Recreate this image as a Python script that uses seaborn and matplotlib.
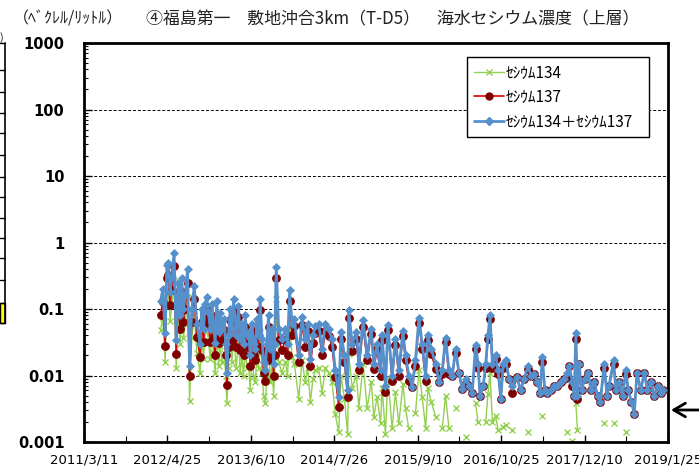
import numpy as np
import pandas as pd
import matplotlib
matplotlib.use("Agg")
import matplotlib.pyplot as plt
import seaborn as sns
from matplotlib.lines import Line2D
from matplotlib.patches import Rectangle
from matplotlib.ticker import FixedLocator, LogLocator, NullFormatter, AutoMinorLocator

nan = float("nan")

# ---------------- data ----------------
dates = [
    "2012-03-22","2012-04-02","2012-04-14","2012-04-22","2012-04-30","2012-05-08","2012-05-16","2012-05-28","2012-06-07","2012-06-18",
    "2012-06-26","2012-07-05","2012-07-13","2012-07-22","2012-08-02","2012-08-12","2012-08-23","2012-09-04","2012-09-17","2012-10-03",
    "2012-10-11","2012-10-20","2012-10-28","2012-11-05","2012-11-13","2012-11-22","2012-11-30","2012-12-08","2012-12-16","2012-12-24",
    "2013-01-02","2013-01-10","2013-01-18","2013-01-30","2013-02-06","2013-02-12","2013-02-20","2013-02-28","2013-03-09","2013-03-17",
    "2013-03-30","2013-04-10","2013-04-18","2013-04-27","2013-05-05","2013-05-13","2013-05-22","2013-05-30","2013-06-07","2013-06-15",
    "2013-06-24","2013-07-02","2013-07-10","2013-07-18","2013-07-26","2013-08-04","2013-08-12","2013-08-20","2013-08-28","2013-09-05",
    "2013-09-13","2013-09-22","2013-09-30","2013-10-05","2013-10-13","2013-10-25","2013-11-10","2013-11-27","2013-12-08","2013-12-18",
    "2013-12-30",
    "2014-01-10","2014-02-01","2014-02-17","2014-03-05","2014-03-17","2014-03-30","2014-04-12","2014-04-24","2014-05-10","2014-05-27",
    "2014-06-12","2014-06-29","2014-07-15","2014-07-31","2014-08-17","2014-08-28","2014-09-14","2014-09-30","2014-10-05","2014-10-22",
    "2014-11-12","2014-11-24","2014-12-15",
    "2015-01-04","2015-01-24","2015-02-06","2015-02-22","2015-03-11","2015-03-19","2015-04-04","2015-04-16","2015-05-07","2015-05-23",
    "2015-06-09","2015-06-29","2015-07-12","2015-07-28","2015-08-14","2015-08-30","2015-09-16","2015-10-02","2015-10-19","2015-10-30",
    "2015-11-16","2015-12-07","2015-12-24",
    "2016-01-09","2016-01-25","2016-02-11","2016-02-27","2016-03-15","2016-03-31","2016-04-17","2016-05-03","2016-05-20","2016-06-05",
    "2016-06-21","2016-07-03","2016-07-13","2016-07-29","2016-08-10","2016-08-21","2016-08-31","2016-09-12","2016-09-28","2016-10-10",
    "2016-10-23","2016-11-05","2016-11-16","2016-12-03","2016-12-19",
    "2017-01-10","2017-01-29","2017-02-15","2017-03-07","2017-03-20","2017-04-05","2017-04-22","2017-05-05","2017-05-16","2017-05-28",
    "2017-06-10","2017-06-26","2017-07-13","2017-07-29","2017-08-15","2017-08-31","2017-09-13","2017-09-25","2017-10-11","2017-10-20",
    "2017-10-28","2017-11-05","2017-11-13","2017-11-25","2017-12-11","2017-12-28",
    "2018-01-10","2018-01-26","2018-02-12","2018-02-25","2018-03-17","2018-03-30","2018-04-10","2018-05-02","2018-05-13","2018-05-30",
    "2018-06-15","2018-07-02","2018-07-13","2018-07-29","2018-08-12","2018-08-25","2018-09-13","2018-09-30","2018-10-16","2018-11-02",
    "2018-11-18","2018-12-05","2018-12-21","2018-12-30",
]

cs_total = [
    0.13,0.20,0.044,0.46,0.50,0.18,0.30,0.70,0.034,0.25,
    0.08,0.29,0.10,0.16,0.40,0.014,0.10,0.22,0.06,0.03,
    0.10,0.05,0.12,0.15,0.09,0.05,0.12,0.06,0.031,0.13,
    0.045,0.087,0.05,0.07,0.03,0.011,0.04,0.10,0.05,0.14,
    0.04,0.11,0.035,0.06,0.03,0.08,0.04,0.045,0.02,0.06,
    0.03,0.025,0.07,0.04,0.14,0.035,0.016,0.012,0.03,0.08,
    0.025,0.05,0.015,0.03,0.43,0.05,0.035,0.05,0.03,0.19,
    0.06,
    0.07,0.02,0.075,0.035,0.06,0.018,0.04,0.055,0.06,0.025,
    0.06,0.05,0.035,0.012,0.0048,0.045,0.02,0.006,0.095,0.03,
    0.045,0.015,0.068,
    0.02,0.05,0.015,0.03,0.012,0.04,0.007,0.058,0.01,0.035,
    0.012,0.046,0.02,0.01,0.0068,0.017,0.074,0.03,0.01,0.04,
    0.025,0.015,0.008,
    0.012,0.037,0.012,0.01,0.025,0.011,0.0062,0.009,0.007,0.0055,
    0.029,0.015,0.005,0.007,0.015,0.04,0.081,0.015,0.02,0.012,
    0.0045,0.015,0.017,0.009,0.007,
    0.0095,0.006,0.009,0.014,0.01,0.0105,0.008,0.0055,0.019,0.006,
    0.0055,0.006,0.007,0.007,0.008,0.009,0.011,0.014,0.008,0.005,
    0.044,0.005,0.015,0.006,0.009,0.011,
    0.006,0.008,0.005,0.004,0.015,0.005,0.007,0.017,0.006,0.008,
    0.005,0.012,0.006,0.004,0.0026,0.011,0.006,0.011,0.006,0.008,
    0.005,0.007,0.0055,0.006,
]

cs137 = [
    0.082,0.126,0.028,0.29,0.32,0.113,0.19,0.44,0.021,0.16,
    0.05,0.18,0.063,0.10,0.25,0.0098,0.063,0.14,0.038,0.019,
    0.063,0.032,0.075,0.095,0.057,0.032,0.076,0.038,0.02,0.082,
    0.031,0.059,0.034,0.048,0.02,0.0072,0.027,0.068,0.034,0.095,
    0.027,0.075,0.024,0.041,0.02,0.054,0.027,0.031,0.014,0.041,
    0.02,0.017,0.048,0.027,0.095,0.024,0.011,0.0082,0.02,0.054,
    0.017,0.034,0.01,0.02,0.29,0.034,0.024,0.034,0.02,0.13,
    0.041,
    0.055,0.016,0.058,0.027,0.047,0.014,0.031,0.043,0.047,0.02,
    0.047,0.039,0.027,0.0094,0.0034,0.035,0.016,0.0047,0.074,0.023,
    0.035,0.012,0.053,
    0.017,0.042,0.0126,0.025,0.01,0.034,0.0057,0.049,0.0084,0.029,
    0.01,0.039,0.017,0.0084,0.0068,0.014,0.062,0.025,0.0084,0.034,
    0.021,0.0126,0.008,
    0.0104,0.032,0.0104,0.01,0.022,0.011,0.0062,0.0078,0.007,0.0055,
    0.025,0.013,0.005,0.007,0.013,0.035,0.07,0.013,0.0175,0.0105,
    0.0045,0.013,0.015,0.009,0.0055,
    0.0095,0.006,0.009,0.0125,0.01,0.0105,0.008,0.0055,0.016,0.006,
    0.0055,0.006,0.007,0.007,0.008,0.009,0.0096,0.014,0.007,0.005,
    0.036,0.0045,0.015,0.006,0.009,0.011,
    0.006,0.008,0.005,0.004,0.013,0.005,0.007,0.015,0.006,0.008,
    0.005,0.0105,0.006,0.004,0.0026,0.011,0.006,0.011,0.006,0.008,
    0.005,0.007,0.0055,0.006,
]

cs134 = [
    0.048,0.074,0.016,0.17,0.18,0.067,0.11,0.26,0.013,0.09,
    0.03,0.11,0.037,0.06,0.15,0.0042,0.037,0.08,0.022,0.011,
    0.037,0.018,0.045,0.055,0.033,0.018,0.044,0.022,0.011,0.048,
    0.014,0.028,0.016,0.022,0.01,0.0038,0.013,0.032,0.016,0.045,
    0.013,0.035,0.011,0.019,0.01,0.026,0.013,0.014,0.006,0.019,
    0.01,0.008,0.022,0.013,0.045,0.011,0.005,0.0038,0.01,0.026,
    0.008,0.016,0.005,0.01,0.14,0.016,0.011,0.016,0.01,0.06,
    0.019,
    0.015,0.0045,0.017,0.008,0.013,0.004,0.009,0.012,0.013,0.0055,
    0.013,0.011,0.008,0.0026,0.0014,0.01,0.0045,0.0013,0.021,0.0066,
    0.01,0.0033,0.015,
    0.0032,0.008,0.0024,0.0048,0.0019,0.0064,0.0013,0.0093,0.0016,0.0056,
    0.0019,0.0074,0.0032,0.0016,nan,0.0027,0.012,0.0048,0.0016,0.0064,
    0.004,0.0024,nan,
    0.0016,0.005,0.0016,nan,0.0033,nan,nan,0.0012,nan,nan,
    0.0038,0.002,nan,nan,0.002,0.0052,0.011,0.002,0.0025,0.0015,
    nan,0.0017,0.0018,nan,0.0015,
    nan,nan,nan,0.0014,nan,nan,nan,nan,0.0025,nan,
    nan,nan,nan,nan,nan,nan,0.0014,nan,0.00105,nan,
    0.0038,0.0015,nan,nan,nan,nan,
    nan,nan,nan,nan,0.0019,nan,nan,0.0019,nan,nan,
    nan,0.0014,nan,nan,nan,nan,nan,nan,nan,nan,
    nan,nan,nan,nan,
]

series_names = ["ｾｼｳﾑ134", "ｾｼｳﾑ137", "ｾｼｳﾑ134＋ｾｼｳﾑ137"]
x_tick_labels = ["2011/3/11", "2012/4/25", "2013/6/10", "2014/7/26",
                 "2015/9/10", "2016/10/25", "2017/12/10", "2019/1/25"]
y_ticks = [0.001, 0.01, 0.1, 1, 10, 100, 1000]
y_tick_labels = ["0.001", "0.01", "0.1", "1", "10", "100", "1000"]
unit_label = "（ﾍﾞｸﾚﾙ/ﾘｯﾄﾙ）"
title = "④福島第一　敷地沖合3km（T-D5）　海水セシウム濃度（上層）"

# ---------------- styling ----------------
GREEN = "#92D050"
RED_LINE = "#E00000"
MAROON = "#7F0000"
BLUE = "#5590CC"

sns.set_theme(style="white")
plt.rcParams['font.family'] = ['Noto Sans CJK JP', 'DejaVu Sans']

df = pd.DataFrame({
    "date": pd.to_datetime(dates),
    "total": cs_total,
    "cs137": cs137,
    "cs134": cs134,
})
df["seg"] = df["cs134"].isna().cumsum()
green_df = df[df["cs134"].notna()]

fig = plt.figure(figsize=(6.99, 4.70), dpi=100)
W, H = 699, 470
ax = fig.add_axes([84 / W, (H - 442) / H, 584 / W, 399 / H])

sns.lineplot(data=green_df, x="date", y="cs134", units="seg", estimator=None,
             sort=False, color=GREEN, lw=1.0, marker="x", markersize=5,
             mec=GREEN, mew=1.0, ax=ax, legend=False, zorder=2)
sns.lineplot(data=df, x="date", y="cs137", estimator=None, sort=False,
             color=RED_LINE, lw=1.2, marker="o", markersize=5.5,
             mfc=MAROON, mec=MAROON, mew=0.8, ax=ax, legend=False, zorder=3)
sns.lineplot(data=df, x="date", y="total", estimator=None, sort=False,
             color=BLUE, lw=2.0, marker="D", markersize=3.6,
             mfc=BLUE, mec=BLUE, mew=0.5, ax=ax, legend=False, zorder=4)

ax.set_yscale("log")
ax.set_ylim(0.001, 1000)
xt = pd.to_datetime(x_tick_labels, format="%Y/%m/%d")
ax.set_xlim(xt[0], xt[-1])
ax.set_xticks(xt)
ax.set_xticklabels(x_tick_labels)
ax.xaxis.set_minor_locator(AutoMinorLocator(2))
ax.yaxis.set_major_locator(FixedLocator(y_ticks))
ax.set_yticklabels(y_tick_labels)
ax.yaxis.set_minor_locator(LogLocator(base=10, subs=np.arange(2, 10)))
ax.yaxis.set_minor_formatter(NullFormatter())
ax.set_xlabel("")
ax.set_ylabel("")

ax.yaxis.grid(True, which="major", color="black", lw=0.7, linestyle=(0, (3, 2)))
ax.xaxis.grid(False)

for sp in ax.spines.values():
    sp.set_visible(True)
    sp.set_color("black")
    sp.set_linewidth(2.0)

ax.tick_params(axis="y", which="major", direction="in", length=6, width=1.0,
               color="black", pad=14, left=True)
ax.tick_params(axis="y", which="minor", direction="in", length=3, width=0.8,
               color="black", left=True)
ax.tick_params(axis="x", which="major", direction="in", length=5, width=1.0,
               color="black", pad=8, bottom=True)
ax.tick_params(axis="x", which="minor", direction="in", length=4, width=0.8,
               color="black", bottom=True)

for lab in ax.get_yticklabels():
    lab.set_fontfamily("DejaVu Sans")
    lab.set_fontweight("bold")
    lab.set_fontsize(10.5)
    lab.set_color("black")
for lab in ax.get_xticklabels():
    lab.set_fontfamily("DejaVu Sans")
    lab.set_fontsize(9.5)
    lab.set_color("black")

# legend
handles = [
    Line2D([], [], color=GREEN, lw=1.0, marker="x", markersize=5, mec=GREEN, mew=1.0),
    Line2D([], [], color=RED_LINE, lw=1.2, marker="o", markersize=5, mfc=MAROON, mec=MAROON),
    Line2D([], [], color=BLUE, lw=2.0, marker="D", markersize=3.6, mfc=BLUE, mec=BLUE),
]
leg = ax.legend(handles, series_names, loc="upper left", mode="expand",
                bbox_to_anchor=((467 - 84) / 584, (442 - 133) / 399,
                                (649 - 467) / 584, (133 - 57) / 399),
                frameon=True, fancybox=False, edgecolor="black", framealpha=1,
                fontsize=11, handlelength=2.0, handletextpad=0.1,
                labelspacing=0.5, borderpad=0.45, borderaxespad=0)
leg.get_frame().set_linewidth(1.0)
for t in leg.get_texts():
    t.set_color("black")

# titles
fig.text(13 / W, 1 - 19 / H, unit_label, ha="left", va="center", fontsize=11.5, color="#222222")
fig.text(146 / W, 1 - 19 / H, title, ha="left", va="center", fontsize=12.2, color="#222222")

# partial table at the left edge (cropped neighbour)
fig.add_artist(Line2D([5 / W, 5 / W], [1 - 43 / H, 1 - 323 / H], color="black", lw=1.2,
                      transform=fig.transFigure))
fig.add_artist(Rectangle((0, 1 - 323 / H), 5 / W, 20 / H, facecolor="#FFFF00",
                         edgecolor="black", lw=1.0, transform=fig.transFigure))
for yy in [43, 70, 92, 113, 133, 155, 177, 197, 218, 238, 258, 280, 303, 323]:
    fig.add_artist(Line2D([0, 5 / W], [1 - yy / H, 1 - yy / H], color="black", lw=1.0,
                          transform=fig.transFigure))
fig.text(0, 1 - 38 / H, ")", ha="left", va="center", fontsize=8, color="#222222")

# arrow at the right edge
ax.annotate("", xy=(671 / W, 1 - 410 / H), xycoords="figure fraction",
            xytext=(699 / W, 1 - 410 / H), textcoords="figure fraction",
            arrowprops=dict(arrowstyle="->,head_length=0.6,head_width=0.35",
                            lw=2.0, color="black", mutation_scale=14,
                            shrinkA=0, shrinkB=0))

fig.savefig("out.png", dpi=100)
